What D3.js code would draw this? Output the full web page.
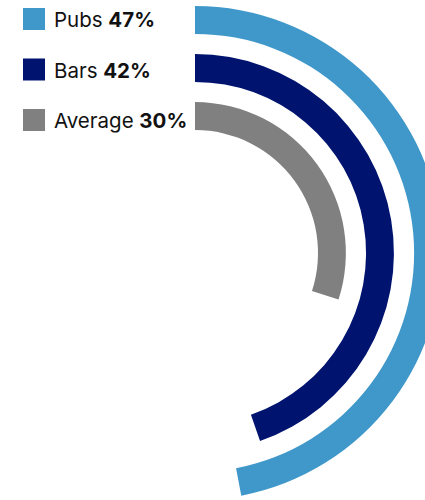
<!DOCTYPE html>
<html>
<head>
<meta charset="utf-8">
<script src="https://cdn.jsdelivr.net/npm/d3@7"></script>
<style>
    body { margin: 0; background: #fff; }
</style>
</head>
<body>
<div id="chart"></div>
<script>
    const categories = ["Pubs", "Bars", "Average"];
    const labelValues = [47, 42, 30];
    // how far each arc actually runs in the picture (the Bars arc runs past its label)
    const arcValues = [47, 44.7, 30];
    const colors = ["#3f98c9", "#00146f", "#808080"];

    const WIDTH = 425, HEIGHT = 500;
    const CENTER = {x: 195, y: 253};
    const FONT_FAMILY = "Inter, 'Noto Sans', sans-serif";

    let svg = d3.select("#chart")
        .append("svg")
        .attr("width", WIDTH)
        .attr("height", HEIGHT);

    let angle = d3.scaleLinear()
        .domain([0, 100])
        .range([0, 2 * Math.PI]);

    let ring = d3.scaleBand()
        .domain(categories)
        .range([247, 123])
        .paddingInner(0.42);

    let arc = d3.arc()
        .startAngle(0)
        .endAngle(d => angle(d.value))
        .innerRadius(d => ring(d.name))
        .outerRadius(d => ring(d.name) + ring.bandwidth());

    let data = categories.map((c, i) => ({name: c, value: arcValues[i], label: labelValues[i], color: colors[i]}));

    svg.append("g")
        .attr("transform", "translate(" + CENTER.x + "," + CENTER.y + ")")
        .selectAll("path")
        .data(data)
        .enter()
        .append("path")
        .attr("d", arc)
        .attr("fill", d => d.color);

    let legendY = d3.scalePoint()
        .domain(categories)
        .range([19, 120]);

    let legend = svg.append("g")
        .selectAll("g")
        .data(data)
        .enter()
        .append("g")
        .attr("transform", d => "translate(23," + legendY(d.name) + ")");

    legend.append("rect")
        .attr("x", 0)
        .attr("y", -11)
        .attr("width", 22)
        .attr("height", 22)
        .attr("fill", d => d.color);

    let label = legend.append("text")
        .attr("x", 31)
        .attr("y", 8)
        .style("font-family", FONT_FAMILY)
        .style("font-size", "20.5px")
        .style("fill", "#111");

    label.append("tspan")
        .text(d => d.name + " ");
    label.append("tspan")
        .style("font-weight", "bold")
        .text(d => d.label + "%");
</script>
</body>
</html>
